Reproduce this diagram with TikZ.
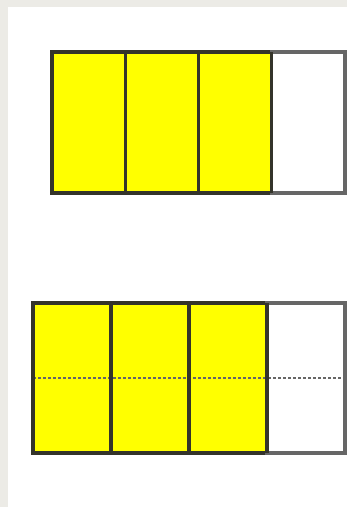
\documentclass[tikz,border=0pt]{standalone}
\usepackage{tikz}
\usetikzlibrary{positioning}
\definecolor{bggray}{HTML}{ECEBE6}
\definecolor{shaded}{HTML}{FFFF00}
\definecolor{edge}{HTML}{34342A}
\definecolor{pale}{HTML}{666666}
\tikzset{
  cell/.style={
    rectangle, inner sep=0pt, outer sep=0pt,
    draw=edge, line width=3.4pt, fill=shaded,
  },
  blank/.style={
    cell, draw=pale, fill=white,
  },
  topcell/.style={minimum width=73.25pt, minimum height=141pt},
  lowcell/.style={minimum width=78pt, minimum height=150pt},
  halfline/.style={pale, line width=1.6pt, dash pattern=on 3pt off 2pt},
  divider/.style={edge, line width=3.4pt},
}
\begin{document}
\begin{tikzpicture}[x=1pt,y=-1pt,node distance=0pt]
  \fill[bggray] (0,0) rectangle (347,507);
  \fill[white] (8,7) rectangle (347,507);
  \useasboundingbox (0,0) rectangle (347,507);
  % top bar: 3 of 4 shaded
  \node[cell,topcell,anchor=north west] (t1) at (52,52) {};
  \node[cell,topcell,right=of t1] (t2) {};
  \node[cell,topcell,right=of t2] (t3) {};
  \node[blank,topcell,right=of t3] (t4) {};
  \draw[divider] (t3.north east) -- (t3.south east);
  % lower bar, cut in halves
  \node[cell,lowcell,anchor=north west] (b1) at (33,303) {};
  \node[cell,lowcell,right=of b1] (b2) {};
  \node[cell,lowcell,right=of b2] (b3) {};
  \node[blank,lowcell,right=of b3] (b4) {};
  \draw[halfline] (b1.west) -- (b4.east);
  % redraw borders over the dashes
  \foreach \n in {b1,b2,b3} \draw[divider] (\n.north east) -- (\n.south east);
  \draw[divider] (b1.north west) -- (b1.south west);
\end{tikzpicture}
\end{document}
